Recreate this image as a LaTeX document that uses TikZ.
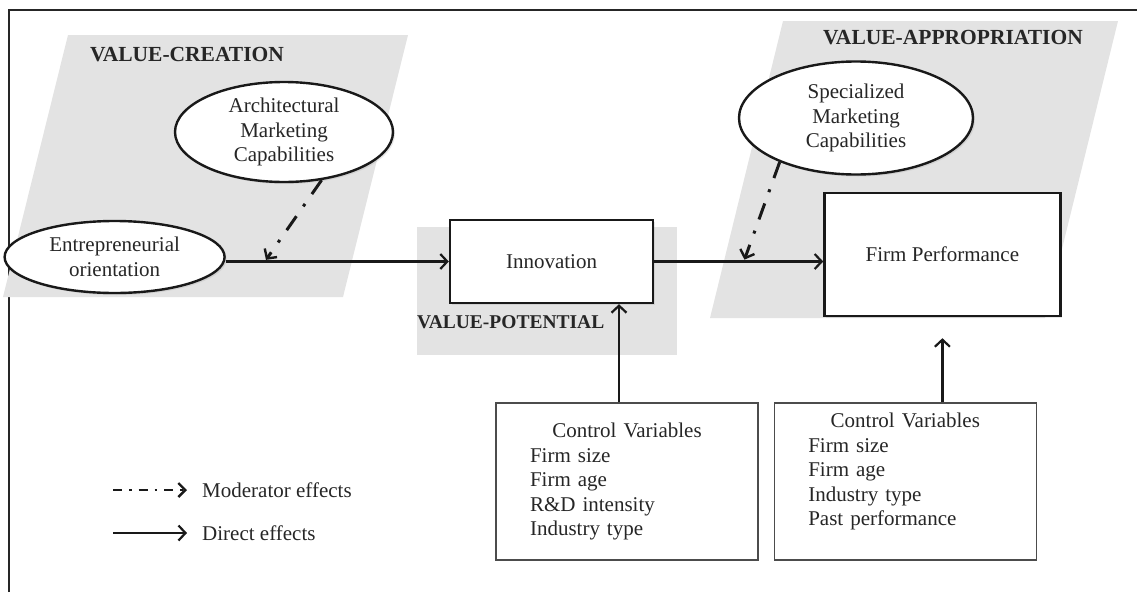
\documentclass[tikz,border=0pt]{standalone}
\usepackage{fontspec}
\setmainfont{Liberation Serif}
\usetikzlibrary{shapes,arrows.meta,positioning,calc,shadows}

\begin{document}
\begin{tikzpicture}[
    x=1pt, y=-1pt,
    node distance=15pt,
    every node/.style={font=\fontsize{21}{24.5}\selectfont, text=black!85},
    zone/.style={fill=black!11, draw=none},
    zonelabel/.style={font=\fontsize{21.5}{24.5}\selectfont\bfseries, text=black!85},
    soft/.style={drop shadow={opacity=0.18, shadow xshift=2pt, shadow yshift=-2pt}},
    capability/.style={ellipse, draw=black!90, line width=2.4pt, fill=white, inner sep=0pt, align=center, soft},
    construct/.style={rectangle, draw=black!90, line width=2.4pt, fill=white, align=center, soft},
    controlbox/.style={rectangle, draw=black!70, line width=1.3pt, fill=white, text width=194pt, inner xsep=34pt, inner ysep=0pt, minimum height=157pt, align=left},
    legendtext/.style={anchor=west, inner sep=0pt},
    direct/.style={-{Straight Barb[length=7pt,width=15pt,line width=2.2pt]}, line width=2.2pt, black!90},
    moderator/.style={-{Straight Barb[length=7pt,width=15pt,line width=2.4pt]}, line width=3pt, black!90, dash pattern=on 17pt off 12pt on 3pt off 12pt},
    moderatorkey/.style={-{Straight Barb[length=7pt,width=14pt,line width=2.4pt]}, line width=2.8pt, black!90, dash pattern=on 9pt off 7pt on 2.5pt off 7pt},
]
\useasboundingbox (0,0) rectangle (1137,592);

% Frame
\draw[line width=2pt, black!85] (9,592) -- (9,10) -- (1137,10);

% Shaded zones
\fill[zone] (68,35) -- (408,35) -- (343,297) -- (3,297) -- cycle;
\fill[zone] (783,21) -- (1118,21) -- (1045,318) -- (710,318) -- cycle;
\fill[zone] (417,227) rectangle (677,355);

% Zone labels
\node[zonelabel] (creation) at (187,55) {VALUE-CREATION};
\node[zonelabel] (appropriation) at (953,38) {VALUE-APPROPRIATION};
\node[zonelabel, font=\fontsize{19.5}{24}\selectfont\bfseries, anchor=west, inner xsep=0pt] (potential) at (417,322) {VALUE-POTENTIAL};

% Main constructs
\node[construct, minimum width=203pt, minimum height=83pt] (inno) at (551.5,261.5) {Innovation};
\node[construct, minimum width=236pt, minimum height=123pt, right=169pt of inno, yshift=7pt] (firm) {Firm Performance};
\node[capability, minimum width=220pt, minimum height=72pt, left=223pt of inno, yshift=4.5pt] (eo) {Entrepreneurial\\orientation};

% Moderators
\node[capability, minimum width=218pt, minimum height=100pt] (amc) at (284,132) {Architectural\\Marketing\\Capabilities};
\node[capability, minimum width=234pt, minimum height=113pt] (smc) at (856,118) {Specialized\\Marketing\\Capabilities};

% Control variables
\node[controlbox] (ctrl1) at (627,481.5) {\makebox[\hsize][c]{Control Variables}\\Firm size\\Firm age\\R\&D intensity\\Industry type};
\node[controlbox, right=of ctrl1] (ctrl2) {\makebox[\hsize][c]{Control Variables}\\Firm size\\Firm age\\Industry type\\Past performance\\ \mbox{}};

% Direct effects
\draw[direct] (eo.east |- inno.west) -- (inno.west);
\draw[direct] (inno.east) -- (inno.east -| firm.west);
\draw[direct] ([xshift=-8pt]ctrl1.north) -- ([xshift=-8pt]ctrl1.north |- inno.south);
\draw[direct] (firm.south |- ctrl2.north) -- ([yshift=-21pt]firm.south);

% Moderator effects
\coordinate (mod1) at ($(eo.east |- inno.west)!0.175!(inno.west)$);
\coordinate (mod2) at ($(inno.east)!0.53!(inno.east -| firm.west)$);
\draw[moderator, shorten >=2pt] (amc.-52) -- (mod1);
\draw[moderator, shorten >=2pt] (smc.-150) -- (mod2);

% Legend
\node[legendtext] (modtxt) at (202,490) {Moderator effects};
\node[legendtext] (dirtxt) at (202,533) {Direct effects};
\coordinate (modstart) at (113,490);
\coordinate (dirstart) at (113,533);
\draw[moderatorkey, shorten >=15pt] (modstart) -- (modtxt.west);
\draw[direct, shorten >=15pt] (dirstart) -- (dirtxt.west);

\end{tikzpicture}
\end{document}
